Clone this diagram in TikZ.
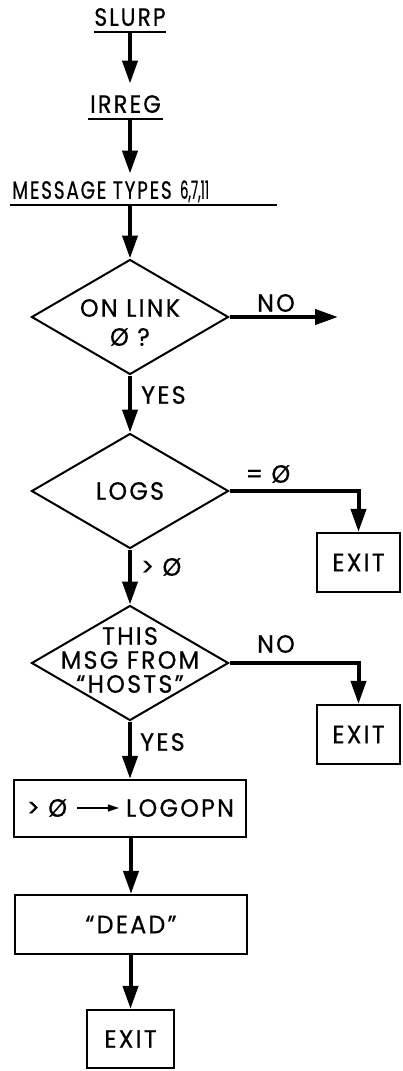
\documentclass[tikz,border=0pt]{standalone}
\usepackage{fontspec}
\setmainfont{Poppins}[FakeStretch=0.95, FakeBold=0.6, LetterSpace=9]
\usetikzlibrary{arrows.meta,shapes.geometric}
\newcommand\chartfont{\fontsize{25pt}{24pt}\selectfont}
\newcommand\tight[2]{\scalebox{#1}[1]{#2}}
\tikzset{
  x=1pt, y=-1pt,
  every node/.style={font=\chartfont, inner sep=0pt},
  flow/.style={line width=4pt, -{Triangle[length=23pt,width=15pt]}},
  minor/.style={line width=1.3pt, -{Triangle[length=11pt,width=7pt]}},
  rule/.style={line width=1.8pt},
  decision/.style={draw, line width=2pt, diamond, minimum width=197pt, minimum height=115pt},
  stepbox/.style={draw, line width=2.2pt, rectangle},
  heading/.style={text height=16pt, text depth=0pt, inner ysep=6pt, inner xsep=0pt},
}
\begin{document}
\begin{tikzpicture}
\useasboundingbox (0,0) rectangle (403,1071);

% entry chain of routine names
\node[heading, anchor=south, minimum width=70pt] (slurp) at (130,32) {\tight{0.92}{SLURP}};
\node[heading, anchor=south, minimum width=75pt] (irreg) at (125.5,119) {\tight{0.95}{IRREG}};
\node[heading, anchor=south west, text width=263pt, align=left, inner xsep=2pt] (msg) at (10,205)
  {\tight{0.78}{MESSAGE TYPES} \tight{0.55}{\addfontfeatures{LetterSpace=0}6,7,11}};
\draw[rule] (slurp.south west) -- (slurp.south east);
\draw[rule] (irreg.south west) -- (irreg.south east);
\draw[rule] (msg.south west) -- (msg.south east);

% decisions
\node[decision] (link) at (130,317) {};
\node (linkA) at (130,308) {ON LINK};
\node (linkB) at (130,337) {Ø ?};
\node[decision] (logs) at (130,491) {};
\node (logstxt) at (130,491) {LOGS};
\node[decision] (hosts) at (130,663) {};
\node (hostsA) at (130,636) {THIS};
\node (hostsB) at (130,660) {MSG FROM};
\node (hostsC) at (130,684) {“HOSTS”};

% process boxes
\node[stepbox, minimum width=232pt, minimum height=57pt] (open) at (130,808.5) {};
\node (gtz) at (47,808) {> Ø};
\node (logopn) at (180,808) {LOGOPN};
\draw[minor] ([xshift=10pt]gtz.east) -- ([xshift=-7pt]logopn.west);
\node[stepbox, minimum width=232pt, minimum height=59pt] (dead) at (131,924.5) {“DEAD”};

% exits
\node[stepbox, minimum width=83pt, minimum height=59pt] (exitA) at (358.5,562.5) {EXIT};
\node[stepbox, minimum width=83pt, minimum height=59pt] (exitB) at (358.5,734.5) {EXIT};
\node[stepbox, minimum width=87pt, minimum height=58pt] (exitC) at (130.5,1039) {EXIT};

% branch labels
\node (nolink) at (276,303) {NO};
\node[anchor=west] (yeslink) at (141,395) {YES};
\node (eqz) at (268,474) {= Ø};
\node[anchor=west] (gtzero) at (141,567) {> Ø};
\node (nohost) at (276,644) {NO};
\node[anchor=west] (yeshost) at (140,742) {YES};

\coordinate (off) at (338,317);

% connectors
\draw[flow, shorten >=7pt] (slurp.south) -- (slurp.south |- irreg.north);
\draw[flow, shorten >=3pt] (irreg.south -| link.north) -- (msg.north -| link.north);
\draw[flow] (msg.south -| link.north) -- (link.north);
\draw[flow] (link.east) -- (off);
\draw[flow] (link.south) -- (logs.north);
\draw[flow] (logs.east) -| (exitA.north);
\draw[flow] (logs.south) -- (hosts.north);
\draw[flow] (hosts.east) -| (exitB.north);
\draw[flow] (hosts.south) -- (open.north);
\draw[flow] (open.south -| dead.north) -- (dead.north);
\draw[flow] (dead.south -| exitC.north) -- (exitC.north);
\end{tikzpicture}
\end{document}
